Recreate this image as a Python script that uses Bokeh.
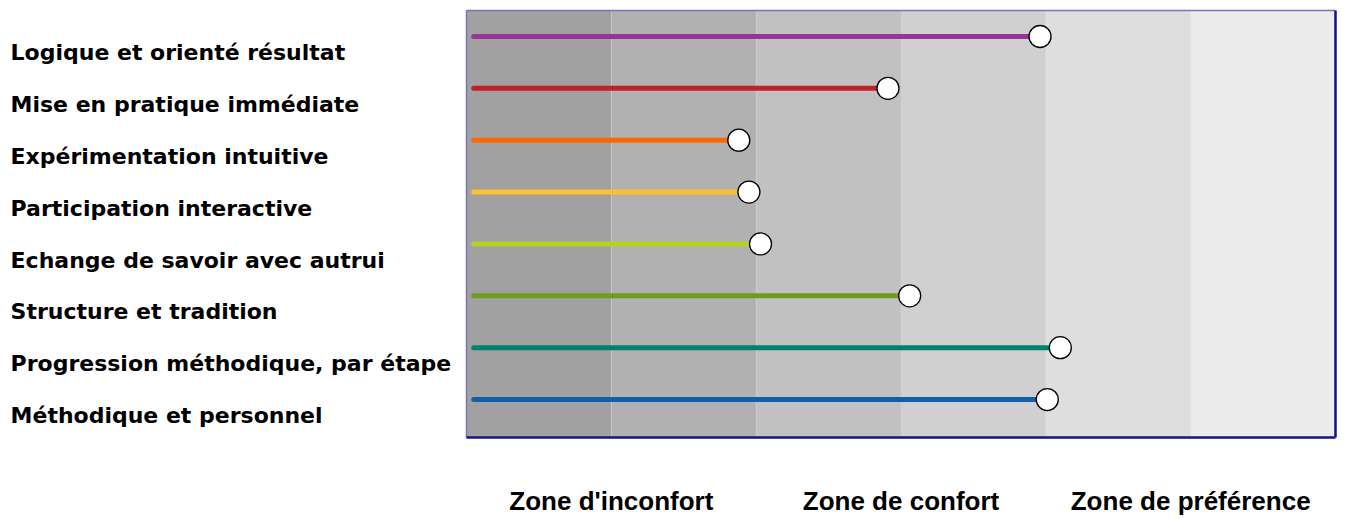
from bokeh.plotting import figure
from bokeh.models import ColumnDataSource, Range1d
from bokeh.core.properties import value
from bokeh.embed import file_html
from bokeh.resources import INLINE

categories = ["Logique et orienté résultat", "Mise en pratique immédiate",
              "Expérimentation intuitive", "Participation interactive",
              "Echange de savoir avec autrui", "Structure et tradition",
              "Progression méthodique, par étape", "Méthodique et personnel"]
scores = [3.96, 2.91, 1.88, 1.95, 2.03, 3.06, 4.10, 4.01]
line_colors = ["#993399", "#c02028", "#ff6a00", "#ffc030", "#b4d424",
               "#6e9c1c", "#008070", "#1060a8"]
band_colors = ["#a1a1a1", "#b1b1b1", "#c1c1c1", "#d0d0d0", "#dedede", "#ececec"]
zone_labels = ["Zone d'inconfort", "Zone de confort", "Zone de préférence"]
zone_centers = [1, 3, 5]

W, H = 1346, 519
p = figure(width=W, height=H, output_backend="svg", toolbar_location=None,
           x_range=Range1d(-3.2175, 6.076), y_range=Range1d(-9.313, 0.694),
           min_border=0, outline_line_color=None)
p.axis.visible = False
p.grid.visible = False
p.background_fill_color = "white"

# bands
p.quad(left=list(range(6)), right=list(range(1, 7)), bottom=-7.73, top=0.5,
       fill_color=band_colors, line_color=None)
p.segment(x0=list(range(1, 6)), x1=list(range(1, 6)), y0=-7.73, y1=0.5,
          line_color="#d8d8d8", line_width=1, line_alpha=0.3)

# border: light top/left, dark right/bottom
p.segment(x0=[0, 0], y0=[0.5, 0.5], x1=[6, 0], y1=[0.5, -7.73],
          line_color="#7a74c0", line_width=1.5)
p.segment(x0=[6, 0], y0=[0.5, -7.73], x1=[6, 6], y1=[-7.73, -7.73],
          line_color="#14128a", line_width=2.5)

rows = [-i for i in range(len(categories))]
src = ColumnDataSource(dict(y=rows, x=scores, c=line_colors, lab=categories,
                            ly=[r - 0.31 for r in rows]))
p.segment(x0=0.05, y0="y", x1="x", y1="y", line_color="c", line_width=5,
          line_cap="round", source=src)
p.scatter(x="x", y="y", size=22, fill_color="white", line_color="black",
          line_width=1.3, source=src)

p.text(x=-3.148, y="ly", text="lab", source=src, text_font=value("DejaVu Sans"),
       text_font_style="bold", text_font_size="22px", text_align="left",
       text_baseline="middle", text_color="black")

p.text(x=zone_centers, y=-8.947, text=zone_labels,
       text_font=value("Liberation Sans"), text_font_style="bold",
       text_font_size="26px", text_align="center", text_baseline="middle",
       text_color="black")

open("out.html", "w").write(file_html(p, INLINE))
